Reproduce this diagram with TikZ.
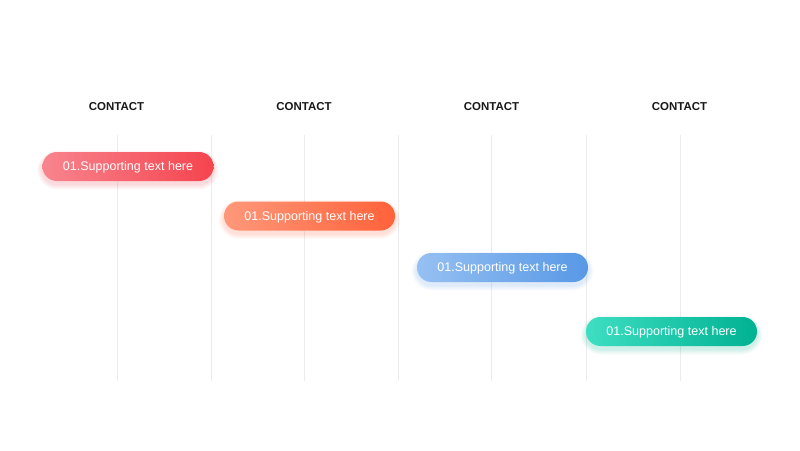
\documentclass[tikz,border=0pt]{standalone}
\usepackage{fontspec}
\setmainfont{Liberation Sans}
\usetikzlibrary{positioning}
\definecolor{r1}{RGB}{248,132,142}
\definecolor{r2}{RGB}{245,68,78}
\definecolor{o1}{RGB}{255,152,122}
\definecolor{o2}{RGB}{255,98,58}
\definecolor{b1}{RGB}{150,192,242}
\definecolor{b2}{RGB}{88,152,230}
\definecolor{g1}{RGB}{62,222,194}
\definecolor{g2}{RGB}{0,178,146}
\definecolor{gridline}{RGB}{236,236,236}
\tikzset{
  header/.style={font=\fontsize{8.6}{10}\selectfont\bfseries, text=black!90},
  pill/.style={rectangle, rounded corners=10.8pt, minimum width=128.25pt, minimum height=21.75pt,
    inner sep=0pt, text=white, text depth=0.6pt, font=\fontsize{9.4}{11}\selectfont},
  pillshadow/.style={rectangle, rounded corners=11pt, minimum width=128pt, minimum height=21pt, inner sep=0pt},
  gridv/.style={draw=gridline, line width=0.6pt}
}
\begin{document}
\begin{tikzpicture}[x=0.75pt,y=-0.75pt]
\useasboundingbox (0,0) rectangle (800,450);
\fill[white] (0,0) rectangle (800,450);
% grid lines
\foreach \i/\x in {1/117,2/211,3/304,4/398,5/491,6/586,7/680}{
  \coordinate (t\i) at (\x,135);
  \coordinate (b\i) at (\x,381);
  \draw[gridv] (t\i) -- (b\i);
}
% headers
\node[header] (h1) at (116.5,106.5) {CONTACT};
\node[header] (h2) at (304,106.5) {CONTACT};
\node[header] (h3) at (491.5,106.5) {CONTACT};
\node[header] (h4) at (679.5,106.5) {CONTACT};
% shadows
\foreach \cx/\cy/\c in {128/166.5/r2,309.5/216/o2,502.5/267.5/b2,671.5/331.5/g2}{
  \foreach \k in {1,...,5}{
    \node[pillshadow, fill=\c, fill opacity=0.04, minimum width={128pt+\k*1.6pt}, minimum height={21pt+\k*1.6pt}, rounded corners={11pt+\k*0.8pt}] at (\cx,\cy+3.5) {};
  }
}
% pills
\node[pill, left color=r1, right color=r2] (p1) at (128,166.5) {01.Supporting text here};
\node[pill, left color=o1, right color=o2] (p2) at (309.5,216) {01.Supporting text here};
\node[pill, left color=b1, right color=b2] (p3) at (502.5,267.5) {01.Supporting text here};
\node[pill, left color=g1, right color=g2] (p4) at (671.5,331.5) {01.Supporting text here};
\end{tikzpicture}
\end{document}
